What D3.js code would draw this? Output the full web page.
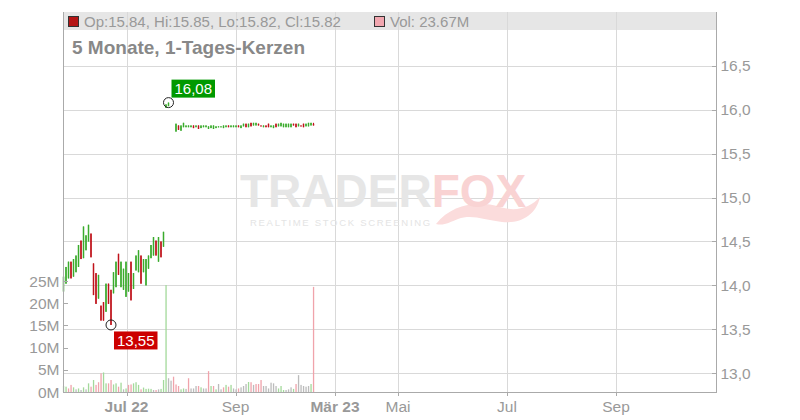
<!DOCTYPE html>
<html><head><meta charset="utf-8">
<script src="https://cdn.jsdelivr.net/npm/d3@7/dist/d3.min.js"></script>
<style>body{margin:0;background:#fff;} svg{display:block;font-family:"Liberation Sans",Arial,sans-serif;}</style>
</head><body><svg id="c" width="800" height="420"></svg>
<script>
// ---- data ----
const candleSlot = [0,1,2,3,4,5,6,7,8,9,10,11,12,13,14,15,16,17,18,19,20,21,22,23,24,25,26,27,28,29,30,31,32,33,34,35,36,37,38,39,40,41,42,
  45,46,47,48,49,50,51,52,53,54,55,56,57,58,59,60,61,62,63,64,65,66,67,68,69,70,71,72,73,74,75,76,77,78,79,80,81,82,83,84,85,86,87,88,89,90,91,92,93,94,95,96,97,98,99,100];
const candleOpen = [13.93,14.02,14.08,14.27,14.10,14.15,14.21,14.51,14.31,14.40,14.50,14.59,14.25,14.14,13.85,13.77,13.81,13.70,14.02,13.95,13.91,13.98,14.36,13.98,13.95,13.87,13.93,14.27,13.96,14.17,14.15,14.34,14.15,14.00,14.19,14.31,14.34,14.51,14.27,14.50,14.44,16.02,16.04,
  15.75,15.82,15.76,15.80,15.80,15.80,15.80,15.82,15.80,15.82,15.79,15.80,15.80,15.78,15.79,15.78,15.79,15.80,15.80,15.79,15.80,15.82,15.80,15.80,15.80,15.82,15.79,15.81,15.84,15.80,15.85,15.82,15.82,15.84,15.82,15.80,15.82,15.84,15.80,15.79,15.84,15.81,15.81,15.80,15.80,15.80,15.80,15.84,15.84,15.81,15.82,15.84,15.81,15.81,15.82,15.84];
const candleHigh = [14.10,14.21,14.27,14.27,14.30,14.34,14.46,14.51,14.67,14.57,14.69,14.59,14.25,14.14,14.12,13.77,13.81,14.02,14.02,13.95,14.15,14.27,14.36,14.27,14.19,14.27,14.14,14.27,14.14,14.34,14.40,14.34,14.30,14.30,14.34,14.46,14.55,14.51,14.55,14.50,14.61,16.06,16.08,
  15.84,15.82,15.82,15.85,15.82,15.82,15.82,15.82,15.82,15.82,15.82,15.82,15.82,15.81,15.82,15.82,15.81,15.81,15.81,15.82,15.82,15.82,15.82,15.82,15.82,15.82,15.82,15.84,15.84,15.84,15.85,15.85,15.85,15.84,15.82,15.82,15.82,15.84,15.82,15.82,15.84,15.84,15.85,15.84,15.84,15.84,15.84,15.84,15.84,15.84,15.82,15.84,15.84,15.85,15.85,15.85];
const candleLow = [13.93,14.02,14.08,14.08,14.10,14.15,14.21,14.30,14.31,14.40,14.50,14.32,13.89,13.79,13.85,13.60,13.60,13.70,13.79,13.55,13.91,13.98,14.12,13.98,13.95,13.87,13.93,13.83,13.96,14.17,14.15,14.02,14.15,14.00,14.19,14.31,14.34,14.34,14.27,14.32,14.44,16.02,16.04,
  15.75,15.77,15.76,15.80,15.80,15.80,15.80,15.79,15.80,15.78,15.79,15.80,15.80,15.78,15.79,15.78,15.79,15.80,15.80,15.79,15.80,15.80,15.80,15.80,15.80,15.80,15.79,15.81,15.80,15.80,15.81,15.82,15.82,15.82,15.81,15.80,15.80,15.80,15.80,15.79,15.80,15.81,15.81,15.80,15.80,15.80,15.80,15.82,15.80,15.81,15.81,15.80,15.81,15.81,15.82,15.82];
const candleClose = [14.10,14.21,14.27,14.08,14.30,14.34,14.46,14.30,14.67,14.57,14.69,14.32,13.89,13.79,14.12,13.60,13.60,14.02,13.79,13.55,14.15,14.27,14.12,14.27,14.19,14.27,14.14,13.83,14.14,14.34,14.40,14.02,14.30,14.30,14.34,14.46,14.55,14.34,14.55,14.32,14.61,16.06,16.08,
  15.84,15.77,15.82,15.85,15.82,15.82,15.82,15.79,15.82,15.78,15.82,15.82,15.82,15.81,15.82,15.82,15.81,15.81,15.81,15.82,15.82,15.80,15.82,15.82,15.82,15.80,15.82,15.84,15.80,15.84,15.81,15.85,15.85,15.82,15.81,15.82,15.80,15.80,15.82,15.82,15.80,15.84,15.85,15.84,15.84,15.84,15.84,15.82,15.80,15.84,15.81,15.80,15.84,15.85,15.85,15.82];
// volume in millions, one per slot 0..100
const volume = [1.35,1.2,0.8,1.6,1.05,0.6,0.8,0.45,1.05,0.6,1.95,1.2,2.7,1.6,2.2,4.2,4.4,1.95,1.95,2.7,1.7,1.95,1.2,2.1,0.6,0.8,1.6,1.7,1.95,2.2,1.6,0.6,1.0,0.7,0.75,0.7,0.45,0.45,0.6,0.7,2.7,
  24.1,3.1,2.55,3.45,1.7,1.35,0.6,0.8,0.7,3.1,0.8,0.8,1.35,1.35,1.05,0.8,0.8,4.7,1.35,1.35,0.6,1.8,0.6,1.05,1.6,1.2,1.6,0.8,0.6,0.8,1.05,1.35,1.8,2.25,2.2,1.6,1.8,1.8,2.7,1.35,1.35,0.8,2.1,1.95,1.35,0.8,1.35,0.45,0.45,0.6,1.05,0.7,1.8,3.8,1.6,1.35,1.2,1.35,1.8,23.67];
// u = up, d = down, n = unchanged (one per slot)
const volumeDir = ("uuddununun ududdduudd uudunudduu uduuuundnu uunnddduun dnnndunndu " +
  "dunndudunn dnnnudnddd nnnnnnuuun nnudnnnnnu d").replace(/ /g,"").split("");
const priceTicks = [13.0,13.5,14.0,14.5,15.0,15.5,16.0,16.5];
const volumeTicks = [0,5,10,15,20,25];
const xTickSlots = [25.2,68.8,108.6,133.8,177.4,221];
const xTickLabels = ["Jul 22","Sep","Mär 23","Mai","Jul","Sep"];
const xTickBold = [true,false,true,false,false,false];
const legendLabels = ["Op","Hi","Lo","Cl"];
const legendValues = ["15.84","15.85","15.82","15.82"];
const legendVolume = "23.67M";
const titleText = "5 Monate, 1-Tages-Kerzen";
const markSlots = [42,19];
const markValues = [16.08,13.55];
const markKinds = ["high","low"];

// ---- layout ----
const L = 63, R = 716, T = 12, B = 392;
const svg = d3.select("#c");
const x = d3.scaleLinear().domain([-0.2, 261]).range([L, R]);
const yP = d3.scaleLinear().domain([13, 16.5]).range([373.3, 65.7]);
const yV = d3.scaleLinear().domain([0, 25]).range([B, 281]);
const de = d3.formatLocale({decimal:",",thousands:".",grouping:[3],currency:["","€"]});
const fmt1 = de.format(".1f"), fmt2 = de.format(".2f");
const gray = "#999";

// legend bar
svg.append("rect").attr("x",L).attr("y",T).attr("width",R-L).attr("height",18).attr("fill","#e6e6e6");

// grid
const grid = svg.append("g").attr("stroke","#d9d9d9").attr("stroke-width",1);
grid.selectAll("line.h").data(priceTicks).join("line").attr("class","h")
  .attr("x1",L).attr("x2",R).attr("y1",d=>Math.round(yP(d))+0.5).attr("y2",d=>Math.round(yP(d))+0.5);
grid.selectAll("line.v").data(xTickSlots).join("line").attr("class","v")
  .attr("x1",d=>Math.round(x(d))+0.5).attr("x2",d=>Math.round(x(d))+0.5).attr("y1",T).attr("y2",B);

// watermark
const wm = svg.append("g");
wm.append("path").attr("d","M436,224 C452,204 478,200 500,207 C516,212 530,208 540,197 C536,215 521,224 502,222 C484,220 472,214 458,219 C450,222 444,226 436,224 Z")
  .attr("fill","#fbdcdc");
const wt = wm.append("text").attr("x",240).attr("y",207).attr("font-size",46).attr("font-weight","bold");
wt.append("tspan").attr("fill","#e6e6e6").text("TRADER");
wt.append("tspan").attr("fill","#f9d3d3").text("FOX");
wm.append("text").attr("x",250).attr("y",226).attr("font-size",9.5).attr("letter-spacing",1.7).attr("fill","#e4e4e4").text("REALTIME STOCK SCREENING");

// volume bars
const vcol = {u:"#a3d99b", d:"#f0a3ab", n:"#bbbbbb"};
svg.append("g").selectAll("rect").data(volume).join("rect")
  .attr("x",(d,i)=>x(i)-0.6).attr("width",1.3)
  .attr("y",d=>yV(d)).attr("height",d=>B-yV(d))
  .attr("fill",(d,i)=>vcol[volumeDir[i]] || vcol.n);

// candles
const candles = candleSlot.map((s,i)=>({s,o:candleOpen[i],h:candleHigh[i],l:candleLow[i],c:candleClose[i]}));
const cg = svg.append("g");
const up = "#3aab2c", dn = "#c0121a";
cg.selectAll("rect.w").data(candles).join("rect").attr("class","w")
  .attr("x",d=>x(d.s)-0.5).attr("width",1)
  .attr("y",d=>yP(d.h)).attr("height",d=>Math.max(1,yP(d.l)-yP(d.h)))
  .attr("fill",d=>d.c>=d.o?up:dn);
cg.selectAll("rect.b").data(candles).join("rect").attr("class","b")
  .attr("x",d=>x(d.s)-0.75).attr("width",1.5)
  .attr("y",d=>yP(Math.max(d.o,d.c))).attr("height",d=>Math.max(1,Math.abs(yP(d.o)-yP(d.c))))
  .attr("fill",d=>d.c>=d.o?up:dn);

// axes lines
const ax = svg.append("g").attr("stroke","#aaaaaa").attr("stroke-width",1);
ax.append("line").attr("x1",L+0.5).attr("x2",L+0.5).attr("y1",T).attr("y2",B+0.5);
ax.append("line").attr("x1",R+0.5).attr("x2",R+0.5).attr("y1",T).attr("y2",B+0.5);
ax.append("line").attr("x1",L).attr("x2",R+1).attr("y1",B+0.5).attr("y2",B+0.5);
ax.selectAll("line.pt").data(priceTicks).join("line").attr("class","pt")
  .attr("x1",R-4).attr("x2",R).attr("y1",d=>Math.round(yP(d))+0.5).attr("y2",d=>Math.round(yP(d))+0.5);
ax.selectAll("line.vt").data(volumeTicks).join("line").attr("class","vt")
  .attr("x1",L).attr("x2",L+5).attr("y1",d=>Math.round(yV(d))+0.5).attr("y2",d=>Math.round(yV(d))+0.5);
ax.selectAll("line.xt").data(xTickSlots).join("line").attr("class","xt")
  .attr("x1",d=>Math.round(x(d))+0.5).attr("x2",d=>Math.round(x(d))+0.5).attr("y1",B).attr("y2",B+4);

// labels
svg.append("g").selectAll("text").data(priceTicks).join("text")
  .attr("x",R+4.5).attr("y",d=>yP(d)).attr("dy","0.36em").attr("font-size",15.5).attr("fill",gray).text(d=>fmt1(d));
svg.append("g").selectAll("text").data(volumeTicks).join("text")
  .attr("x",L-3.5).attr("y",d=>yV(d)).attr("dy","0.36em").attr("text-anchor","end").attr("font-size",15.5).attr("fill",gray).text(d=>d+"M");
svg.append("g").selectAll("text").data(xTickSlots).join("text")
  .attr("x",d=>x(d)).attr("y",412).attr("text-anchor","middle").attr("font-size",15.5)
  .attr("font-weight",(d,i)=>xTickBold[i]?"bold":"normal").attr("fill",gray).text((d,i)=>xTickLabels[i]);

// legend
svg.append("rect").attr("x",68.5).attr("y",16.5).attr("width",10).attr("height",10).attr("fill","#b51616").attr("stroke","#333");
svg.append("text").attr("x",84).attr("y",26.5).attr("font-size",15).attr("fill",gray)
  .text(legendLabels.map((l,i)=>l+":"+legendValues[i]).join(", "));
svg.append("rect").attr("x",374.5).attr("y",16.5).attr("width",10).attr("height",10).attr("fill","#f2a7b0").attr("stroke","#333");
svg.append("text").attr("x",390).attr("y",26.5).attr("font-size",15).attr("fill",gray).text("Vol: "+legendVolume);

// title
svg.append("text").attr("x",72).attr("y",54).attr("font-size",19).attr("font-weight","bold").attr("fill","#888").text(titleText);

// high / low markers
markSlots.forEach((s,i)=>{
  const cx = x(s), cy = yP(markValues[i]);
  const hi = markKinds[i]==="high";
  svg.append("circle").attr("cx",cx).attr("cy",cy).attr("r",5).attr("fill","none").attr("stroke","#222").attr("stroke-width",1);
  const by = hi ? cy-23 : cy+6.5;
  svg.append("rect").attr("x",cx+3).attr("y",by).attr("width",43.5).attr("height",18)
    .attr("fill",hi?"#009900":"#cc0000");
  svg.append("text").attr("x",cx+3+21.75).attr("y",by+14.5).attr("text-anchor","middle").attr("font-size",15).attr("fill","#fff").text(fmt2(markValues[i]));
});
</script></body></html>
